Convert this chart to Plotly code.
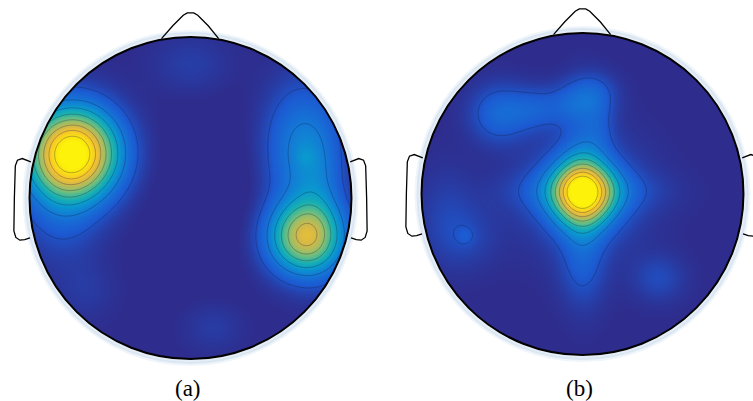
import numpy as np
import plotly.graph_objects as go

# Scalp field components per map, in head units (nose up, radius 1)
a_src_x = [-0.73, -0.80, 0.71, 0.68, 0.71, 0.00, 0.14, -0.65, 0.20, 0.80]
a_src_y = [0.28, 0.00, -0.24, 0.30, 0.26, 0.83, -0.80, -0.57, 0.05, 0.05]
a_src_amp = [1.05, 0.12, 0.68, 0.22, 0.04, 0.04, 0.035, 0.03, -0.02, 0.10]
a_src_sx = [0.18, 0.16, 0.15, 0.15, 0.04, 0.16, 0.12, 0.12, 0.35, 0.10]
a_src_sy = [0.18, 0.24, 0.15, 0.26, 0.04, 0.12, 0.10, 0.12, 0.35, 0.30]

b_src_x = [0.00, 0.00, 0.00, 0.00, -0.52, -0.30, -0.08, 0.06, 0.10, -0.73, -0.73, 0.47, 0.00, -0.85]
b_src_y = [0.01, -0.02, 0.02, 0.00, 0.50, 0.53, 0.56, 0.62, 0.42, -0.26, -0.26, -0.52, -0.50, -0.10]
b_src_amp = [0.82, 0.16, 0.12, 0.10, 0.14, 0.10, 0.09, 0.11, 0.06, 0.04, 0.05, 0.065, 0.04, 0.04]
b_src_sx = [0.13, 0.09, 0.28, 0.25, 0.12, 0.11, 0.10, 0.10, 0.07, 0.04, 0.14, 0.11, 0.10, 0.12]
b_src_sy = [0.13, 0.32, 0.09, 0.25, 0.12, 0.09, 0.09, 0.09, 0.12, 0.04, 0.14, 0.10, 0.15, 0.20]

map_labels = ["(a)", "(b)"]

# Page layout of the two heads (pixel space)
heads = [dict(cx=190.5, cy=198.0, r=161.0), dict(cx=582.5, cy=194.0, r=161.0)]
W, H = 753, 401

parula = [
    [0.00, "rgb(46,44,140)"],
    [0.10, "rgb(28,90,210)"],
    [0.20, "rgb(20,120,214)"],
    [0.30, "rgb(10,152,206)"],
    [0.40, "rgb(24,176,178)"],
    [0.50, "rgb(90,188,138)"],
    [0.60, "rgb(160,190,100)"],
    [0.70, "rgb(212,184,72)"],
    [0.80, "rgb(246,196,45)"],
    [0.90, "rgb(250,222,20)"],
    [1.00, "rgb(252,242,10)"],
]


def field(xs, ys, sx_, sy_, amp, wx, wy):
    X, Y = np.meshgrid(xs, ys)
    Z = np.zeros_like(X)
    for x0, y0, a, s1, s2 in zip(sx_, sy_, amp, wx, wy):
        Z += a * np.exp(-0.5 * (((X - x0) / s1) ** 2 + ((Y - y0) / s2) ** 2))
    return Z


fig = go.Figure()
n = 241
u = np.linspace(-1.03, 1.03, n)
v = np.linspace(1.03, -1.03, n)  # top to bottom
sources = [
    (a_src_x, a_src_y, a_src_amp, a_src_sx, a_src_sy),
    (b_src_x, b_src_y, b_src_amp, b_src_sx, b_src_sy),
]
for hd, src in zip(heads, sources):
    Z = field(u, v, *src)
    px = hd["cx"] + u * hd["r"]
    py = hd["cy"] - v * hd["r"]
    fig.add_trace(go.Heatmap(
        x=px, y=py, z=Z, zmin=0, zmax=1, colorscale=parula,
        zsmooth="best", showscale=False, hoverinfo="skip"))
    fig.add_trace(go.Contour(
        x=px, y=py, z=Z, showscale=False, hoverinfo="skip",
        contours=dict(coloring="none", start=0.08, end=0.95, size=0.12),
        line=dict(color="rgba(20,30,60,0.38)", width=0.8)))

# White surround with circular holes over each head
t = np.linspace(0, 2 * np.pi, 241)
mask = f"M0,0 L{W},0 L{W},{H} L0,{H} Z "
for hd in heads:
    cxs = hd["cx"] + hd["r"] * np.cos(t)
    cys = hd["cy"] + hd["r"] * np.sin(-t)
    mask += "M" + " L".join(f"{a:.2f},{b:.2f}" for a, b in zip(cxs, cys)) + " Z "
shapes = [dict(type="path", path=mask, xref="x", yref="y",
               fillcolor="white", line=dict(width=0), layer="above")]


def to_px(hd, pts):
    return [(hd["cx"] + x * hd["r"], hd["cy"] - y * hd["r"]) for x, y in pts]


def poly_path(pts, closed=False):
    s = "M" + " L".join(f"{a:.2f},{b:.2f}" for a, b in pts)
    return s + (" Z" if closed else "")


ear_left = [(-0.992, 0.225), (-1.045, 0.245), (-1.075, 0.235), (-1.088, 0.200),
            (-1.094, 0.000), (-1.097, -0.205), (-1.085, -0.245), (-1.060, -0.262),
            (-1.030, -0.258), (-0.997, -0.248)]
nose = [(-0.180, 0.990), (-0.110, 1.070), (-0.045, 1.135), (-0.020, 1.150),
        (0.020, 1.150), (0.045, 1.135), (0.110, 1.070), (0.175, 0.990)]

for hd in heads:
    # soft halo round the scalp
    for dr, op in [(5, 0.18), (3, 0.3)]:
        shapes.append(dict(type="circle", xref="x", yref="y",
                           x0=hd["cx"] - hd["r"] - dr, x1=hd["cx"] + hd["r"] + dr,
                           y0=hd["cy"] - hd["r"] - dr, y1=hd["cy"] + hd["r"] + dr,
                           line=dict(color=f"rgba(170,200,230,{op})", width=4),
                           layer="above"))
    shapes.append(dict(type="circle", xref="x", yref="y",
                       x0=hd["cx"] - hd["r"], x1=hd["cx"] + hd["r"],
                       y0=hd["cy"] - hd["r"], y1=hd["cy"] + hd["r"],
                       line=dict(color="black", width=2), layer="above"))
    for part in [ear_left, [(-x, y) for x, y in ear_left], nose]:
        shapes.append(dict(type="path", xref="x", yref="y",
                           path=poly_path(to_px(hd, part)),
                           line=dict(color="black", width=1.3), layer="above"))

for hd, lab in zip(heads, map_labels):
    fig.add_annotation(x=hd["cx"] - 3, y=388, xref="x", yref="y", text=lab,
                       showarrow=False,
                       font=dict(family="Liberation Serif", size=23, color="black"))

fig.update_layout(
    width=W, height=H, margin=dict(l=0, r=0, t=0, b=0),
    paper_bgcolor="white", plot_bgcolor="white", shapes=shapes,
    xaxis=dict(range=[0, W], visible=False, fixedrange=True),
    yaxis=dict(range=[H, 0], visible=False, fixedrange=True),
    showlegend=False,
)
fig.write_html("out.html")
